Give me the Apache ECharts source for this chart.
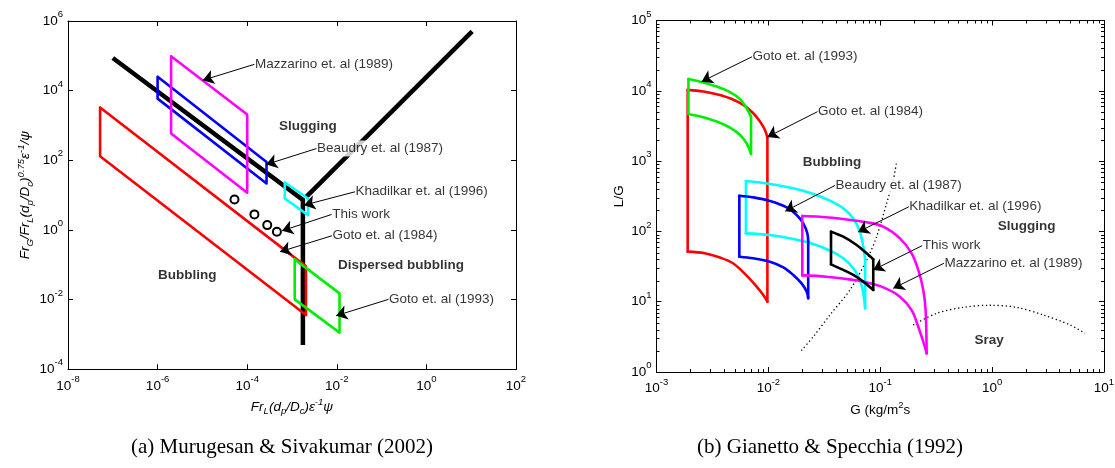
<!DOCTYPE html>
<html>
<head>
<meta charset="utf-8">
<title>Flow regime maps</title>
<script src="https://cdn.jsdelivr.net/npm/echarts@6/dist/echarts.min.js"></script>
<style>
  html, body { margin: 0; padding: 0; background: #fff; }
  #chart { width: 1115px; height: 468px; }
</style>
</head>
<body>
<div id="chart"></div>
<script>
// ---------- (a) Murugesan & Sivakumar (2002) ----------
const aBoundary = [[1e-7, 8.7e4], [1.75e-3, 7.3], [1.75e-3, 5e-4]];
const aRising = [[2.0e-3, 8.5], [10.5, 5.06e5]];
const aGoto1984 = [[5.2e-8, 3.3e3], [2.05e-3, 0.09], [2.05e-3, 3.6e-3], [5.2e-8, 131], [5.2e-8, 3.3e3]];
const aBeaudry = [[1e-6, 2.5e4], [2.7e-4, 90], [2.7e-4, 21.6], [1e-6, 5.9e3], [1e-6, 2.5e4]];
const aMazzarino = [[2e-6, 9.7e4], [1e-4, 2.06e3], [1e-4, 11.7], [2e-6, 587], [2e-6, 9.7e4]];
const aKhadilkar = [[6.9e-4, 23], [2.28e-3, 8.0], [2.28e-3, 2.67], [6.9e-4, 8.0], [6.9e-4, 23]];
const aGoto1993 = [[1.15e-3, 0.143], [0.0115, 0.0151], [0.0115, 1.13e-3], [1.15e-3, 0.0102], [1.15e-3, 0.143]];
const aThisWork = [[5.2e-5, 7.5], [1.45e-4, 2.8], [2.8e-4, 1.38], [4.6e-4, 0.89]];

// text, label anchor (x, y), arrow tip (x, y)
const aNotes = [
  ['Mazzarino et. al (1989)', 1.45e-4, 5.71e4, 1.02e-5, 1.99e4],
  ['Beaudry et. al (1987)', 3.52e-3, 218, 2.65e-4, 75.9],
  ['Khadilkar et. al (1996)', 0.0256, 12.5, 1.86e-3, 5.16],
  ['This work', 7.67e-3, 2.79, 5.98e-4, 0.948],
  ['Goto et. al (1984)', 7.8e-3, 0.682, 5.38e-4, 0.237],
  ['Goto et. al (1993)', 0.1426, 0.0102, 9.66e-3, 3.46e-3]
];
const aRegions = [['Slugging', 2.26e-3, 975], ['Dispersed bubbling', 0.27, 0.094], ['Bubbling', 4.59e-6, 0.0497]];

// ---------- (b) Gianetto & Specchia (1992) ----------
const bGoto1984Top = [[1.9e-3, 1.03e4], [2.62e-3, 9.78e3], [3.45e-3, 8.96e3], [4.54e-3, 7.85e3], [5.97e-3, 6.31e3],
  [7.33e-3, 4.8e3], [8.41e-3, 3.65e3], [9.32e-3, 2.77e3], [9.8e-3, 2.18e3]];
const bGoto1984Bottom = [[1.9e-3, 51.5], [2.7e-3, 48.9], [3.69e-3, 42.5], [4.86e-3, 35], [6.39e-3, 23.5],
  [7.85e-3, 16.4], [9.0e-3, 12.5], [9.8e-3, 10]];
const bGoto1993Top = [[1.93e-3, 1.47e4], [2.45e-3, 1.35e4], [3.45e-3, 1.15e4], [4.54e-3, 9.57e3], [5.58e-3, 7.6e3],
  [6.39e-3, 5.65e3], [7e-3, 4.3e3]];
const bGoto1993Bottom = [[1.93e-3, 4.69e3], [2.62e-3, 4.21e3], [3.45e-3, 3.65e3], [4.54e-3, 2.99e3], [5.58e-3, 2.35e3],
  [6.39e-3, 1.79e3], [7e-3, 1.26e3]];
const bKhadilkarTop = [[6.3e-3, 521], [0.01033, 472], [0.0167, 410], [0.0252, 341], [0.0355, 274], [0.0467, 213],
  [0.0574, 153], [0.0658, 99], [0.0705, 60.7], [0.0733, 39.2]];
const bKhadilkarBottom = [[6.3e-3, 93.8], [0.01033, 88.9], [0.0167, 78], [0.0252, 66.2], [0.0355, 53.2], [0.0467, 41.4],
  [0.0574, 29.9], [0.0658, 20.4], [0.0705, 13.2], [0.0733, 8.05]];
const bBeaudryTop = [[5.5e-3, 322], [7.33e-3, 305], [0.01033, 271], [0.01457, 220], [0.0179, 171], [0.0205, 130],
  [0.0223, 93.8], [0.0227, 71.5]];
const bBeaudryBottom = [[5.5e-3, 43.7], [7.33e-3, 41.4], [0.01033, 37.1], [0.0136, 30.8], [0.0167, 24.0], [0.0198, 18.2],
  [0.022, 13.9], [0.0227, 11.2]];
const bMazzarinoTop = [[0.0201, 166], [0.0289, 162], [0.05, 148], [0.075, 135], [0.1064, 117], [0.15, 79.7],
  [0.1907, 48.8], [0.2187, 28.3], [0.2423, 14.7], [0.2543, 7.6], [0.26, 1.84]];
const bMazzarinoBottom = [[0.0201, 23.7], [0.0332, 22.7], [0.0574, 20.4], [0.0705, 19.3], [0.1064, 16.0], [0.15, 11.8],
  [0.1907, 7.6], [0.2187, 4.41], [0.2423, 2.7], [0.26, 1.84]];
const bThisWorkTop = [[0.0363, 99], [0.0467, 84.1], [0.0615, 64.1], [0.0755, 48.8], [0.0866, 40.1]];
const bThisWorkBottom = [[0.0363, 34], [0.0467, 28.3], [0.0574, 24.0], [0.0705, 19.3], [0.0866, 14.7]];
const bDottedRise = [[0.0197, 2.01], [0.0252, 3.18], [0.0355, 6.47], [0.0536, 14.7], [0.0755, 39], [0.0928, 84],
  [0.114, 250], [0.1308, 538], [0.14, 982]];
const bDottedArc = [[0.197, 4.67], [0.319, 6.84], [0.552, 8.3], [0.956, 8.9], [1.66, 8.3], [2.87, 6.47], [4.96, 4.67], [6.75, 3.55]];

const bNotes = [
  ['Goto et. al (1993)', 7.13e-3, 3.05e4, 2.53e-3, 1.35e4],
  ['Goto et. al (1984)', 0.0275, 5.05e3, 9.8e-3, 2.2e3],
  ['Beaudry et. al (1987)', 0.0395, 451, 0.01416, 194],
  ['Khadilkar et. al (1996)', 0.18, 224, 0.0634, 98],
  ['This work', 0.237, 62.7, 0.0866, 28.3],
  ['Mazzarino et. al (1989)', 0.371, 35.2, 0.1307, 15.5]
];
const bRegions = [['Bubbling', 0.037, 948], ['Slugging', 2.03, 117], ['Sray', 0.942, 2.85]];

// minor ticks of panel (b): 2..9 in every decade
const bMinorX = [];
for (let d = -3; d < 1; d++) for (let k = 2; k < 10; k++) bMinorX.push(k * Math.pow(10, d));
const bMinorY = [];
for (let d = 0; d < 5; d++) for (let k = 2; k < 10; k++) bMinorY.push(k * Math.pow(10, d));

const FONT = '"Liberation Sans", Arial, Helvetica, sans-serif';
const SERIF = '"Liberation Serif", "DejaVu Serif", serif';
const RED = '#ff0000', GREEN = '#00ee00', BLUE = '#0000ff', CYAN = '#00ffff', MAGENTA = '#ff00ff';

const chart = echarts.init(document.getElementById('chart'));

function powLabel(v) {
  const e = Math.round(Math.log10(v));
  return '{b|10}{s|' + e + '}';
}
const labelRich = {
  b: { fontSize: 13.5, fontFamily: FONT, color: '#000' },
  s: { fontSize: 9.5, fontFamily: FONT, color: '#000', padding: [0, 0, 13, 0] }
};
const titleRich = {
  i: { fontSize: 13.5, fontStyle: 'italic', fontFamily: FONT, color: '#000' },
  u: { fontSize: 9.5, fontStyle: 'italic', fontFamily: FONT, color: '#000', padding: [9, 0, 0, 0] },
  p: { fontSize: 9.5, fontStyle: 'italic', fontFamily: FONT, color: '#000', padding: [0, 0, 9, 0] },
  n: { fontSize: 13.5, fontFamily: FONT, color: '#000' },
  q: { fontSize: 9.5, fontFamily: FONT, color: '#000', padding: [0, 0, 9, 0] }
};

function logAxis(grid, pos, min, max, interval, labels, extra) {
  return Object.assign({
    gridIndex: grid, type: 'log', logBase: 10, min: min, max: max, interval: interval,
    position: pos,
    axisLine: { show: true, onZero: false, lineStyle: { color: '#000', width: 1 } },
    axisTick: { show: true, inside: true, length: 5, lineStyle: { color: '#000', width: 1 } },
    axisLabel: labels ? {
      show: true, formatter: powLabel, rich: labelRich, fontSize: 13.5, color: '#000',
      margin: 5, showMinLabel: true, showMaxLabel: true, hideOverlap: false
    } : { show: false },
    splitLine: { show: false },
    minorTick: { show: false }
  }, extra || {});
}

const xAxes = [
  logAxis(0, 'bottom', 1e-8, 1e2, 2, true, {
    name: '{i|Fr}{u|L}{i|(d}{u|p}{i|/D}{u|c}{i|)ε}{p|-1}{i|ψ}',
    nameLocation: 'middle', nameGap: 24, nameTextStyle: { rich: titleRich }
  }),
  logAxis(0, 'top', 1e-8, 1e2, 2, false),
  logAxis(1, 'bottom', 1e-3, 1e1, 1, true, {
    name: '{n|G (kg/m}{q|2}{n|s}',
    nameLocation: 'middle', nameGap: 26, nameTextStyle: { rich: titleRich }
  }),
  logAxis(1, 'top', 1e-3, 1e1, 1, false)
];
const yAxes = [
  logAxis(0, 'left', 1e-4, 1e6, 2, true, {
    name: '{i|Fr}{u|G}{i|/Fr}{u|L}{i|(d}{u|p}{i|/D}{u|c}{i|)}{p|0.75}{i|ε}{p|-1}{i|/ψ}',
    nameLocation: 'middle', nameRotate: 90, nameGap: 33, nameTextStyle: { rich: titleRich }
  }),
  logAxis(0, 'right', 1e-4, 1e6, 2, false),
  logAxis(1, 'left', 1, 1e5, 1, true, {
    name: '{n|L/G}', nameLocation: 'middle', nameRotate: 90, nameGap: 30, nameTextStyle: { rich: titleRich }
  }),
  logAxis(1, 'right', 1, 1e5, 1, false)
];

function path(pts, color, width, g, extra) {
  return Object.assign({
    type: 'line', xAxisIndex: g * 2, yAxisIndex: g * 2, data: pts, symbol: 'none', silent: true,
    lineStyle: { color: color, width: width, cap: 'round', join: 'round' }, z: 3
  }, extra || {});
}

// a curved region of panel (b): top and bottom curves joined by straight edges
function region(top, bottom, color, width) {
  const out = [
    path(top, color, width, 1, { smooth: 0.35 }),
    path(bottom, color, width, 1, { smooth: 0.35 }),
    path([bottom[0], top[0]], color, width, 1)
  ];
  const t = top[top.length - 1], b = bottom[bottom.length - 1];
  if (t[1] !== b[1]) out.push(path([t, b], color, width, 1));
  return out;
}

function notes(list, g) {
  return [{
    type: 'lines', coordinateSystem: 'cartesian2d', xAxisIndex: g * 2, yAxisIndex: g * 2, silent: true, z: 6,
    symbol: ['none', 'arrow'], symbolSize: 11,
    lineStyle: { color: '#000', width: 1, opacity: 1, curveness: 0 },
    data: list.map(n => ({ coords: [[n[1], n[2]], [n[3], n[4]]] }))
  }, {
    type: 'scatter', xAxisIndex: g * 2, yAxisIndex: g * 2, silent: true, z: 7, symbolSize: 1,
    itemStyle: { color: 'rgba(0,0,0,0)' },
    label: {
      show: true, position: 'right', distance: 0, formatter: '{b}', color: '#000',
      fontSize: 13.5, fontFamily: FONT, backgroundColor: '#fff', padding: [1, 1, 1, 0]
    },
    data: list.map(n => ({ name: n[0], value: [n[1], n[2]] }))
  }];
}

function regionLabels(list, g) {
  return {
    type: 'scatter', xAxisIndex: g * 2, yAxisIndex: g * 2, silent: true, z: 7, symbolSize: 1,
    itemStyle: { color: 'rgba(0,0,0,0)' },
    label: {
      show: true, position: 'inside', formatter: '{b}', color: '#000',
      fontSize: 13.5, fontWeight: 'bold', fontFamily: FONT
    },
    data: list.map(n => ({ name: n[0], value: [n[1], n[2]] }))
  };
}

const minorData = bMinorX.map(v => [v, 10, 0]).concat(bMinorY.map(v => [0.1, v, 1]));

const series = [
  // panel (a)
  path(aBoundary, '#000', 4.5, 0, { z: 2, lineStyle: { color: '#000', width: 4.5, cap: 'butt', join: 'miter' } }),
  path(aRising, '#000', 4.5, 0, { z: 2, lineStyle: { color: '#000', width: 4.5, cap: 'butt' } }),
  path(aGoto1984, RED, 2.6, 0),
  path(aBeaudry, BLUE, 2.6, 0),
  path(aMazzarino, MAGENTA, 2.6, 0),
  path(aKhadilkar, CYAN, 2.6, 0),
  path(aGoto1993, GREEN, 2.6, 0),
  {
    type: 'scatter', xAxisIndex: 0, yAxisIndex: 0, data: aThisWork, symbol: 'emptyCircle', symbolSize: 8,
    silent: true, z: 5, itemStyle: { color: '#000', borderColor: '#000', borderWidth: 2.4, opacity: 1 }
  },
  ...notes(aNotes, 0),
  regionLabels(aRegions, 0),
  // panel (b)
  ...region(bGoto1984Top, bGoto1984Bottom, RED, 2.6),
  ...region(bGoto1993Top, bGoto1993Bottom, GREEN, 2.6),
  ...region(bKhadilkarTop, bKhadilkarBottom, CYAN, 2.6),
  ...region(bBeaudryTop, bBeaudryBottom, BLUE, 2.6),
  ...region(bMazzarinoTop, bMazzarinoBottom, MAGENTA, 2.6),
  ...region(bThisWorkTop, bThisWorkBottom, '#000', 2.6),
  path(bDottedRise, '#000', 1.3, 1, { smooth: 0.3, z: 1, lineStyle: { color: '#000', width: 1.3, type: [1.3, 2.7] } }),
  path(bDottedArc, '#000', 1.3, 1, { smooth: 0.3, z: 1, lineStyle: { color: '#000', width: 1.3, type: [1.3, 2.7] } }),
  ...notes(bNotes, 1),
  regionLabels(bRegions, 1),
  {
    type: 'custom', xAxisIndex: 2, yAxisIndex: 2, silent: true, z: 8, data: minorData,
    encode: { x: 0, y: 1 },
    renderItem: function (params, api) {
      const cs = params.coordSys;
      const st = { stroke: '#000', lineWidth: 1 };
      if (api.value(2) === 0) {
        const x = Math.round(api.coord([api.value(0), 10])[0]) + 0.5;
        return { type: 'group', children: [
          { type: 'line', shape: { x1: x, y1: cs.y + cs.height, x2: x, y2: cs.y + cs.height - 3 }, style: st },
          { type: 'line', shape: { x1: x, y1: cs.y, x2: x, y2: cs.y + 3 }, style: st }
        ] };
      }
      const y = Math.round(api.coord([0.1, api.value(1)])[1]) + 0.5;
      return { type: 'group', children: [
        { type: 'line', shape: { x1: cs.x, y1: y, x2: cs.x + 3, y2: y }, style: st },
        { type: 'line', shape: { x1: cs.x + cs.width, y1: y, x2: cs.x + cs.width - 3, y2: y }, style: st }
      ] };
    }
  }
];

chart.setOption({
  animation: false,
  backgroundColor: '#fff',
  grid: [
    { left: 68, top: 21, width: 448, height: 348.3, outerBoundsMode: 'none' },
    { left: 656.5, top: 20.5, width: 447.5, height: 351.5, outerBoundsMode: 'none' }
  ],
  xAxis: xAxes,
  yAxis: yAxes,
  series: series,
  graphic: [
    { type: 'text', x: 282, y: 447, silent: true,
      style: { text: '(a) Murugesan & Sivakumar (2002)', fontSize: 21, fontFamily: SERIF, fill: '#000', align: 'center', verticalAlign: 'middle' } },
    { type: 'text', x: 830, y: 447, silent: true,
      style: { text: '(b) Gianetto & Specchia (1992)', fontSize: 21, fontFamily: SERIF, fill: '#000', align: 'center', verticalAlign: 'middle' } }
  ]
});
</script>
</body>
</html>
